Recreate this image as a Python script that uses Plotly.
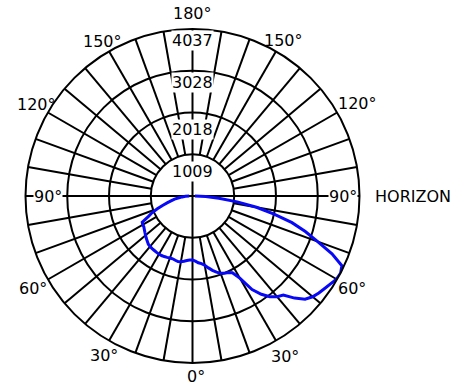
import numpy as np
import plotly.graph_objects as go

# photometric data: angle from nadir (deg) and intensity (cd)
gamma = np.arange(-90, 90.1, 2.5)
candela = [80, 170, 250, 330, 440, 520, 625, 760, 905, 1060, 1180, 1370,
           1385, 1394, 1420, 1450, 1480, 1515, 1545, 1580, 1595, 1603, 1608,
           1615, 1622, 1622, 1615, 1605, 1595, 1592, 1608, 1624, 1612, 1590,
           1565, 1548,
           1545,
           1578, 1620, 1650, 1700, 1780, 1860, 1930, 1985, 2020, 2040, 2090,
           2300, 2680, 2900, 3070, 3180, 3250, 3490, 3690, 3790, 3850, 3900,
           3955, 4020, 4037, 3985, 3650, 3220, 2860, 2490, 2020, 1570, 1090,
           640, 320, 60]

rings = [1009, 2018, 3028, 4037]
ring_labels = ["1009", "2018", "3028", "4037"]
ring_label_drop = [17, 16.5, 12, 11]  # px below each ring

angle_labels = ["0°", "30°", "30°", "60°", "60°", "90°", "90°",
                "120°", "120°", "150°", "150°", "180°"]
angle_pos = [1.1, 30, -29, 60, -60, 90, -90, 119.3, -120.5, 149.5, -149.7, 180]
angle_rad = [181, 185, 182.6, 184, 184, 150, 145, 189, 180.6, 180, 179, 182]

W, H = 469, 387
CX, CY, R = 192.5, 196, 167
RMAX = rings[-1]
FONT = dict(family="DejaVu Sans", size=16, color="black")


def to_paper(theta_deg, r_px):
    t = np.radians(theta_deg)
    x = CX + r_px * np.sin(t)
    y = CY + r_px * np.cos(t)
    return x / W, 1 - y / H


fig = go.Figure()

# spokes every 10 deg, from the first ring out to the edge
sr, st = [], []
for a in range(10, 360, 10):
    if a % 90 == 0:
        continue
    sr += [rings[0], rings[-1], None]
    st += [a, a, None]
fig.add_trace(go.Scatterpolar(r=sr, theta=st, mode="lines",
                              line=dict(color="black", width=2),
                              hoverinfo="skip", showlegend=False))
# main axes through the centre
fig.add_trace(go.Scatterpolar(r=[RMAX, 0, RMAX, None, RMAX, 0, RMAX],
                              theta=[0, 0, 180, None, 90, 90, 270],
                              mode="lines", line=dict(color="black", width=2),
                              hoverinfo="skip", showlegend=False))

fig.add_trace(go.Scatterpolar(r=candela, theta=gamma, mode="lines",
                              line=dict(color="#0808f8", width=3),
                              showlegend=False))

annotations = []
for val, txt, drop in zip(rings, ring_labels, ring_label_drop):
    px = val / RMAX * R
    annotations.append(dict(x=CX / W, y=1 - (CY - px + drop) / H, text=txt,
                            xanchor="center", yanchor="middle",
                            showarrow=False, bgcolor="white", borderpad=0,
                            xref="paper", yref="paper", font=FONT))
for txt, a, rp in zip(angle_labels, angle_pos, angle_rad):
    x, y = to_paper(a, rp)
    annotations.append(dict(x=x, y=y, text=txt, showarrow=False,
                            xanchor="center", yanchor="middle",
                            bgcolor="white" if abs(a) == 90 else None,
                            borderpad=0, xref="paper", yref="paper", font=FONT))
annotations.append(dict(x=373 / W, y=1 - CY / H, text="HORIZON",
                        xanchor="left", yanchor="middle",
                        showarrow=False, xref="paper", yref="paper", font=FONT))

fig.update_layout(
    width=W, height=H,
    margin=dict(l=0, r=0, t=0, b=0),
    paper_bgcolor="white",
    polar=dict(
        domain=dict(x=[(CX - R) / W, (CX + R) / W],
                    y=[1 - (CY + R) / H, 1 - (CY - R) / H]),
        bgcolor="white",
        angularaxis=dict(rotation=270, direction="counterclockwise",
                         showgrid=False, showticklabels=False, ticks="",
                         showline=True, linecolor="black", linewidth=2),
        radialaxis=dict(range=[0, RMAX], tickvals=rings[:-1],
                        showticklabels=False, ticks="", showline=False,
                        gridcolor="black", gridwidth=2),
    ),
    annotations=annotations,
)

# drop the browser's default body margin so the figure sits at the page corner
fig.write_html("out.html", config={"displayModeBar": False},
               post_script="document.body.style.margin = '0px';")
